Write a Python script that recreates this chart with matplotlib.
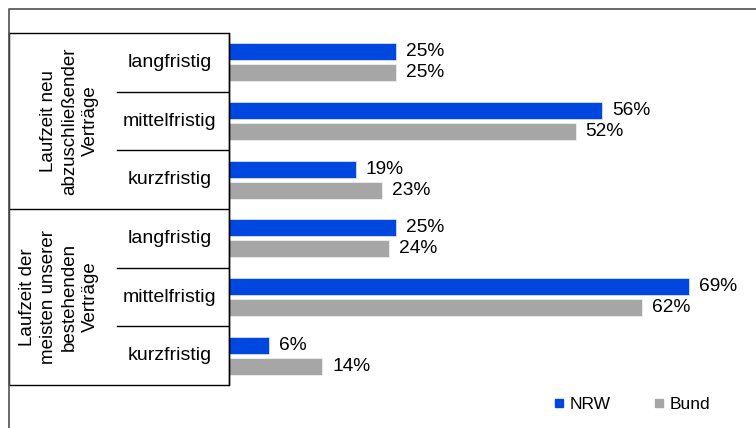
import matplotlib
matplotlib.use("Agg")
import matplotlib.pyplot as plt
from matplotlib.lines import Line2D
import numpy as np

plt.rcParams['font.family'] = ['Liberation Sans', 'DejaVu Sans']

# -----------------------------
# DATA
# -----------------------------
groups = ["Laufzeit neu\nabzuschließender\nVerträge",
          "Laufzeit der\nmeisten unserer\nbestehenden\nVerträge"]
categories = ["langfristig", "mittelfristig", "kurzfristig",
              "langfristig", "mittelfristig", "kurzfristig"]
nrw = [25, 56, 19, 25, 69, 6]
bund = [25, 52, 23, 24, 62, 14]
series_names = ["NRW", "Bund"]

c_nrw = '#0047E0'
c_bund = '#A6A6A6'

# -----------------------------
# FIGURE
# -----------------------------
W, H = 756, 428
fig = plt.figure(figsize=(W / 100, H / 100), dpi=100)

# outer frame (only top and left edges fall inside the image)
fig.add_artist(Line2D([9 / W, 9 / W, 1], [0, 1 - 8.5 / H, 1 - 8.5 / H],
                      transform=fig.transFigure, color='#505050', linewidth=1.2))

top, bot = 33, 385
y0 = 1 - bot / H
hh = (bot - top) / H
ax = fig.add_axes([229 / W, y0, 500 / W, hh])
axt = fig.add_axes([9 / W, y0, 220 / W, hh])

n = len(categories)
y = np.arange(n)
off = 0.179
bh = 0.29

ax.barh(y - off, nrw, height=bh, color=c_nrw, edgecolor='#D6E0F5', linewidth=0.6)
ax.barh(y + off, bund, height=bh, color=c_bund, edgecolor='#EEEEEE', linewidth=0.6)

for i in range(n):
    ax.text(nrw[i] + 1.5, y[i] - off, f"{nrw[i]}%", va='center', ha='left', fontsize=13.8)
    ax.text(bund[i] + 1.5, y[i] + off, f"{bund[i]}%", va='center', ha='left', fontsize=13.8)

ax.set_xlim(0, 75)
ax.set_ylim(n - 0.5, -0.5)
ax.set_xticks([])
ax.set_yticks([])
for s in ['top', 'right', 'bottom']:
    ax.spines[s].set_visible(False)
ax.spines['left'].set_linewidth(1)
ax.patch.set_alpha(0)

# -----------------------------
# TABLE ON THE LEFT
# -----------------------------
axt.set_xlim(0, 220)
axt.set_ylim(n - 0.5, -0.5)
axt.axis('off')
lw = 1
axt.plot([0, 220, 220, 0, 0], [-0.5, -0.5, n - 0.5, n - 0.5, -0.5], color='black', lw=lw, clip_on=False)
axt.plot([0, 220], [2.5, 2.5], color='black', lw=lw)
for b in [0.5, 1.5, 3.5, 4.5]:
    axt.plot([108, 220], [b, b], color='black', lw=lw)

for i, c in enumerate(categories):
    axt.text(161, y[i], c, ha='center', va='center', fontsize=14)

for g, lab in enumerate(groups):
    axt.text(90, 1 + 3 * g, lab, ha='right', va='center', rotation=90,
             fontsize=13.5, linespacing=1.32, multialignment='center')

# -----------------------------
# LEGEND
# -----------------------------
handles = [Line2D([], [], marker='s', linestyle='none', color=c_nrw, markersize=6),
           Line2D([], [], marker='s', linestyle='none', color=c_bund, markersize=6)]
fig.legend(handles, series_names, loc='center', bbox_to_anchor=(632 / W, 1 - 404 / H),
           ncol=2, frameon=False, fontsize=12.5, handlelength=0.6, handletextpad=0.3,
           columnspacing=2.5)

fig.savefig("out.png", dpi=100)
